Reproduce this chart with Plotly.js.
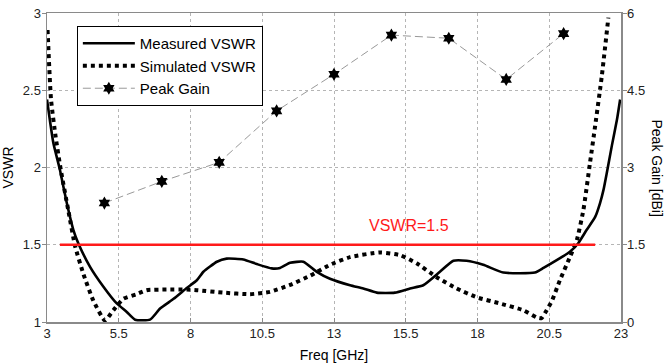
<!DOCTYPE html>
<html>
<head>
<meta charset="utf-8">
<script src="https://cdn.plot.ly/plotly-3.0.1.min.js"></script>
<style>html,body{margin:0;padding:0;background:#fff;}#chart{width:666px;height:364px;}</style>
</head>
<body>
<div id="chart"></div>
<script>
// Measured VSWR
const measFreq = [3.0,3.22,3.45,3.69,3.92,4.09,4.5,4.96,5.43,5.78,6.07,6.59,6.94,7.41,7.87,8.22,8.45,8.92,9.26,9.84,10.31,10.83,11.12,11.47,11.93,12.4,12.86,13.56,14.02,14.49,15.12,15.65,16.11,16.69,17.16,17.62,18.2,18.9,20.0,20.3,20.76,21.22,21.51,21.8,22.1,22.27,22.39,22.5,22.68,22.86,22.97];
const measVSWR = [2.44,2.16,1.985,1.77,1.595,1.51,1.357,1.23,1.12,1.065,1.015,1.015,1.087,1.15,1.22,1.27,1.325,1.39,1.41,1.405,1.375,1.347,1.35,1.383,1.39,1.325,1.28,1.238,1.217,1.19,1.19,1.217,1.238,1.325,1.396,1.396,1.37,1.32,1.32,1.35,1.40,1.455,1.51,1.595,1.68,1.77,1.855,1.96,2.14,2.31,2.44];
// Simulated VSWR
const simFreq = [3.02,3.14,3.3,3.48,3.74,3.98,4.27,4.61,5.02,5.31,5.66,6.12,6.47,7.17,7.87,8.22,9.15,10.07,10.77,11.47,12.17,12.86,13.56,14.6,15.3,15.88,16.58,17.27,17.97,18.78,19.6,20.06,20.23,20.41,20.6,20.87,21.22,21.46,21.69,21.92,22.1,22.33,22.56];
const simVSWR = [2.89,2.44,2.2,1.985,1.725,1.49,1.31,1.14,1.01,1.076,1.15,1.18,1.206,1.21,1.21,1.206,1.19,1.18,1.195,1.24,1.30,1.37,1.42,1.45,1.433,1.38,1.29,1.217,1.16,1.12,1.076,1.03,1.025,1.076,1.14,1.27,1.42,1.53,1.725,2.03,2.27,2.59,2.97];
// Peak Gain (dBi)
const gainFreq = [5,7,9,11,13,15,17,19,21];
const gainVal = [2.31,2.73,3.10,4.10,4.81,5.57,5.51,4.71,5.60];
// VSWR = 1.5 reference
const refFreq = [3.45,22.1];
const refVSWR = [1.5,1.5];
const refLabel = "VSWR=1.5";
const xTicks = [3,5.5,8,10.5,13,15.5,18,20.5,23];
const yTicks = [1,1.5,2,2.5,3];
const y2Ticks = [0,1.5,3,4.5,6];

const font = "Arial, 'Liberation Sans', sans-serif";
const traces = [
  {x: measFreq, y: measVSWR, name: "Measured VSWR", mode: "lines",
   line: {color: "#000", width: 2.6, shape: "spline", smoothing: 0.5}},
  {x: simFreq, y: simVSWR, name: "Simulated VSWR", mode: "lines",
   line: {color: "#000", width: 4, dash: "4px,4px", shape: "spline", smoothing: 0.5}},
  {x: gainFreq, y: gainVal, name: "Peak Gain", mode: "lines+markers", yaxis: "y2",
   line: {color: "#999", width: 1, dash: "8px,4px"},
   marker: {symbol: "hexagram", size: 10, color: "#000", line: {width: 0}}},
  {x: refFreq, y: refVSWR, mode: "lines", showlegend: false,
   line: {color: "#ff1a1a", width: 2.5}}
];
const gridStyle = {showgrid: true, gridcolor: "#b5b5b5", griddash: "dot", gridwidth: 1, zeroline: false};
const layout = {
  width: 666, height: 364,
  margin: {l: 47, r: 45, t: 13, b: 42},
  paper_bgcolor: "#fff", plot_bgcolor: "#fff",
  font: {family: font, size: 13, color: "#222"},
  showlegend: true,
  legend: {x: 0.052, y: 0.958, xanchor: "left", yanchor: "top",
    bgcolor: "#fff", bordercolor: "#000", borderwidth: 1,
    font: {family: font, size: 15, color: "#000"}, itemwidth: 52, tracegroupgap: 0},
  xaxis: Object.assign({range: [3,23], tickvals: xTicks, ticktext: xTicks.map(String),
    showline: true, linecolor: "#8a8a8a", linewidth: 1.5, mirror: true,
    ticks: "inside", ticklen: 4, tickcolor: "#8a8a8a", ticklabelstandoff: -1,
    title: {text: "Freq [GHz]", font: {size: 14, color: "#000"}, standoff: 10}}, gridStyle),
  yaxis: Object.assign({range: [1,3], tickvals: yTicks, ticktext: yTicks.map(String),
    showline: true, linecolor: "#8a8a8a", linewidth: 1.5,
    ticks: "outside", ticklen: 4, tickcolor: "#8a8a8a", ticklabelstandoff: -2,
    title: {text: "VSWR", font: {size: 14, color: "#000"}, standoff: 6}}, gridStyle),
  yaxis2: {range: [0,6], overlaying: "y", side: "right", tickvals: y2Ticks, ticktext: y2Ticks.map(String),
    showline: true, linecolor: "#8a8a8a", linewidth: 1.5, showgrid: false, zeroline: false,
    ticks: "outside", ticklen: 4, tickcolor: "#8a8a8a", ticklabelstandoff: -2},
  annotations: [
    {x: 15.6, y: 1.626, xref: "x", yref: "y", text: refLabel, showarrow: false,
     font: {family: font, size: 16, color: "#ff1a1a"}},
    {x: 1 + 46/574, y: 0.5, xref: "paper", yref: "paper", text: "Peak Gain [dBi]", textangle: 90,
     showarrow: false, font: {family: font, size: 14, color: "#000"}}
  ]
};
Plotly.newPlot("chart", traces, layout, {staticPlot: true, displayModeBar: false});
</script>
</body>
</html>
